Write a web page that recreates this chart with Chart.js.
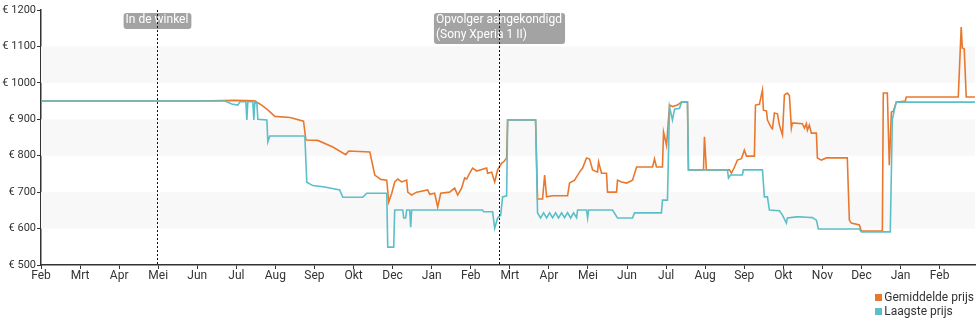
<!DOCTYPE html>
<html>
<head>
<meta charset="utf-8">
<script src="https://cdn.jsdelivr.net/npm/chart.js@4.4.1/dist/chart.umd.min.js"></script>
<style>
  html, body { margin: 0; padding: 0; background: #fff; }
  #wrap { position: relative; width: 980px; height: 325px; }
  #legend { position: absolute; right: 6px; top: 290px; font: 12px Roboto, sans-serif; color: #333; }
  .item { display: flex; align-items: center; height: 14px; }
  .sw { width: 7px; height: 7px; margin-right: 2px; }
</style>
</head>
<body>
<div id="wrap">
  <canvas id="chart" width="980" height="325"></canvas>
  <div id="legend"></div>
</div>
<script>
// ===== Data (x = days since start of the axis)
const monthLabels = ['Feb','Mrt','Apr','Mei','Jun','Jul','Aug','Sep','Okt','Dec','Jan','Feb',
                     'Mrt','Apr','Mei','Jun','Jul','Aug','Sep','Okt','Nov','Dec','Jan','Feb'];
const daysPerTick = 32;
const lastDay = 765;

const gemDays = [0,130,158.8,175,181,186,191.5,204,215,217,226.7,239,249.6,252,269.3,273.4,278.3,283.2,284.8,287.3,289.7,292.2,295.4,299.5,300.4,303.6,307.7,316.7,318.4,322.4,324.9,327.4,334.7,338.8,341.3,344.5,347,348.7,351.1,353.5,356.8,365,365.8,369.1,371.6,374,377.3,378.9,381.4,382.2,405.1,406.7,410.8,412.5,414.1,419,431.3,432.9,437,441.1,443.6,446.8,449.3,451.8,455.8,456.7,459.1,463.2,464,471.4,472.2,475.5,479.6,484.5,487.8,500.9,502.5,504.1,509,509.9,512.3,513.1,514.8,517.2,521.3,524.6,529.5,530.3,542.6,543.4,545,563.9,565.5,568,570.4,573.7,576.1,577.8,584.3,585.2,588.4,590.9,591.7,594.2,595,598.3,599.1,600.7,603.2,604.8,607.3,608.9,611.3,613,614.6,615.4,623.6,625.3,626.9,627.7,629.3,631,635.1,635.9,639.2,643.3,660.4,662.1,663.7,670.3,671.9,689.1,689.9,693.2,694.8,696.5,698.1,700.5,707.9,708.7,751.3,753.7,754.6,756.2,757.8,765];
const gemPrices = [950,950,952,951,938,925,908,905,895,843,842,824,803,813,810,747,735,733,673,697,728,736,728,733,700,692,700,706,694,697,659,697,700,711,692,711,739,736,752,766,758,766,752,755,728,761,780,783,794,898,898,681,681,747,687,690,690,725,733,755,766,794,791,761,755,783,752,752,700,700,733,728,725,733,769,769,791,769,769,865,829,860,939,935,939,947,947,761,761,852,761,761,752,769,788,792,815,799,799,939,941,980,925,923,898,876,874,917,915,884,857,967,972,965,876,890,888,876,888,870,884,862,862,794,788,794,794,623,615,610,593,593,972,972,774,920,922,947,950,961,961,1153,1096,1093,961,961];

const laagDays = [0,150.6,156.3,161.2,162.9,167.8,168.6,169.4,173.5,174.3,175.1,176.8,177.6,185,185.8,187.4,216.1,217.7,222.6,232.4,244.7,247.2,263.5,266.8,283.2,284,288.9,289.7,296.3,297.1,298.7,299.5,302,302.8,303.6,361.7,362.6,369.9,371.6,374,376.5,378.1,381.4,382.2,405.1,406.7,409.2,411.7,414.1,416.6,419,421.5,423.9,426.4,428.8,431.3,433.8,436.2,438.7,439.5,446.8,447.7,448.5,468.1,472.2,484.5,486.1,508.2,509,513.1,514.8,517.2,518.9,523,524.6,529.5,530.3,562.2,563.1,564.7,574.5,575.3,590.9,592.5,595,596.6,604.8,607.3,610.5,611.3,618.7,621.2,626.9,631.8,635.1,636.7,670.3,671.9,695.6,697.3,698.9,700.5,765];
const laagPrices = [950,950,942,939,948,948,898,948,948,898,945,945,900,898,838,854,854,727,718,714,706,686,686,697,697,549,549,651,651,629,629,651,651,604,651,651,646,646,601,629,637,687,690,898,898,643,629,643,629,643,630,643,629,643,630,644,629,643,630,651,651,629,651,651,629,629,643,643,678,678,934,898,928,930,947,947,761,761,739,747,747,761,761,687,687,651,649,637,615,629,632,632,631,630,623,599,599,591,591,900,925,947,947];

const bandRanges = [[1000, 1100], [800, 900], [600, 700]];
const eventDays = [95, 375];
const eventLabels = [['In de winkel'], ['Opvolger aangekondigd', '(Sony Xperia 1 II)']];

const ORANGE = '#e9782f';
const TEAL = '#5cbfc8';
const INK = '#333';

// ===== Plugins
const bandsPlugin = {
  id: 'bands',
  beforeDatasetsDraw(chart) {
    const { ctx, chartArea, scales: { y } } = chart;
    ctx.save();
    ctx.fillStyle = '#f8f8f8';
    bandRanges.forEach(([lo, hi]) => {
      const top = y.getPixelForValue(hi);
      const bot = y.getPixelForValue(lo);
      ctx.fillRect(chartArea.left, top, chartArea.right - chartArea.left, bot - top);
    });
    ctx.restore();
  }
};

const eventsPlugin = {
  id: 'events',
  afterDatasetsDraw(chart) {
    const { ctx, chartArea, scales: { x } } = chart;
    ctx.save();
    ctx.font = '12px Roboto, sans-serif';
    ctx.textBaseline = 'top';
    eventDays.forEach((d, i) => {
      const px = Math.round(x.getPixelForValue(d)) + 0.5;
      const lines = eventLabels[i];
      const w = Math.max(...lines.map(l => ctx.measureText(l).width)) + 5;
      const h = lines.length * 15 + 1;
      const bx = px - w / 2, by = chartArea.top + 3;
      ctx.fillStyle = 'rgba(150,150,150,0.88)';
      ctx.beginPath();
      ctx.roundRect(bx, by, w, h, 3);
      ctx.fill();
      ctx.fillStyle = '#fff';
      lines.forEach((l, k) => ctx.fillText(l, bx + 2, by + 1 + k * 15));
      // dotted marker
      ctx.strokeStyle = '#111';
      ctx.lineWidth = 1;
      ctx.setLineDash([2, 2]);
      ctx.beginPath();
      ctx.moveTo(px, chartArea.top);
      ctx.lineTo(px, chartArea.bottom);
      ctx.stroke();
      ctx.setLineDash([]);
    });
    ctx.restore();
  }
};

// ===== Chart
const ctx = document.getElementById('chart').getContext('2d');
new Chart(ctx, {
  type: 'line',
  data: {
    datasets: [
      {
        label: 'Gemiddelde prijs',
        data: gemDays.map((d, i) => ({ x: d, y: gemPrices[i] })),
        borderColor: ORANGE,
        backgroundColor: ORANGE,
        borderWidth: 1.6,
        pointRadius: 0,
        tension: 0,
        order: 2
      },
      {
        label: 'Laagste prijs',
        data: laagDays.map((d, i) => ({ x: d, y: laagPrices[i] })),
        borderColor: TEAL,
        backgroundColor: TEAL,
        borderWidth: 1.6,
        pointRadius: 0,
        tension: 0,
        order: 1
      }
    ]
  },
  options: {
    responsive: false,
    devicePixelRatio: 1,
    animation: false,
    layout: { padding: { left: 0, top: 10, right: 5, bottom: 38 } },
    plugins: { legend: { display: false }, tooltip: { enabled: false } },
    scales: {
      x: {
        type: 'linear',
        min: 0,
        max: lastDay,
        grid: { drawOnChartArea: false, color: INK, tickLength: 4 },
        border: { color: INK, width: 1.5 },
        ticks: {
          stepSize: daysPerTick,
          includeBounds: false,
          autoSkip: false,
          maxRotation: 0,
          padding: 0,
          color: INK,
          font: { family: 'Roboto', size: 12 },
          callback: v => monthLabels[Math.round(v / daysPerTick)] || ''
        },
        afterFit: s => { s.height = 22; }
      },
      y: {
        min: 500,
        max: 1200,
        grid: { drawOnChartArea: false, color: INK, tickLength: 4 },
        border: { color: INK, width: 1.5 },
        ticks: {
          stepSize: 100,
          padding: 1,
          color: INK,
          font: { family: 'Roboto', size: 11 },
          callback: v => '€ ' + v
        },
        afterFit: s => { s.width = 41; }
      }
    }
  },
  plugins: [bandsPlugin, eventsPlugin]
});

// ===== Legend
const legendEl = document.getElementById('legend');
[['Gemiddelde prijs', ORANGE], ['Laagste prijs', TEAL]].forEach(([name, col]) => {
  const row = document.createElement('div');
  row.className = 'item';
  row.innerHTML = `<span class="sw" style="background:${col}"></span>${name}`;
  legendEl.appendChild(row);
});
</script>
</body>
</html>
